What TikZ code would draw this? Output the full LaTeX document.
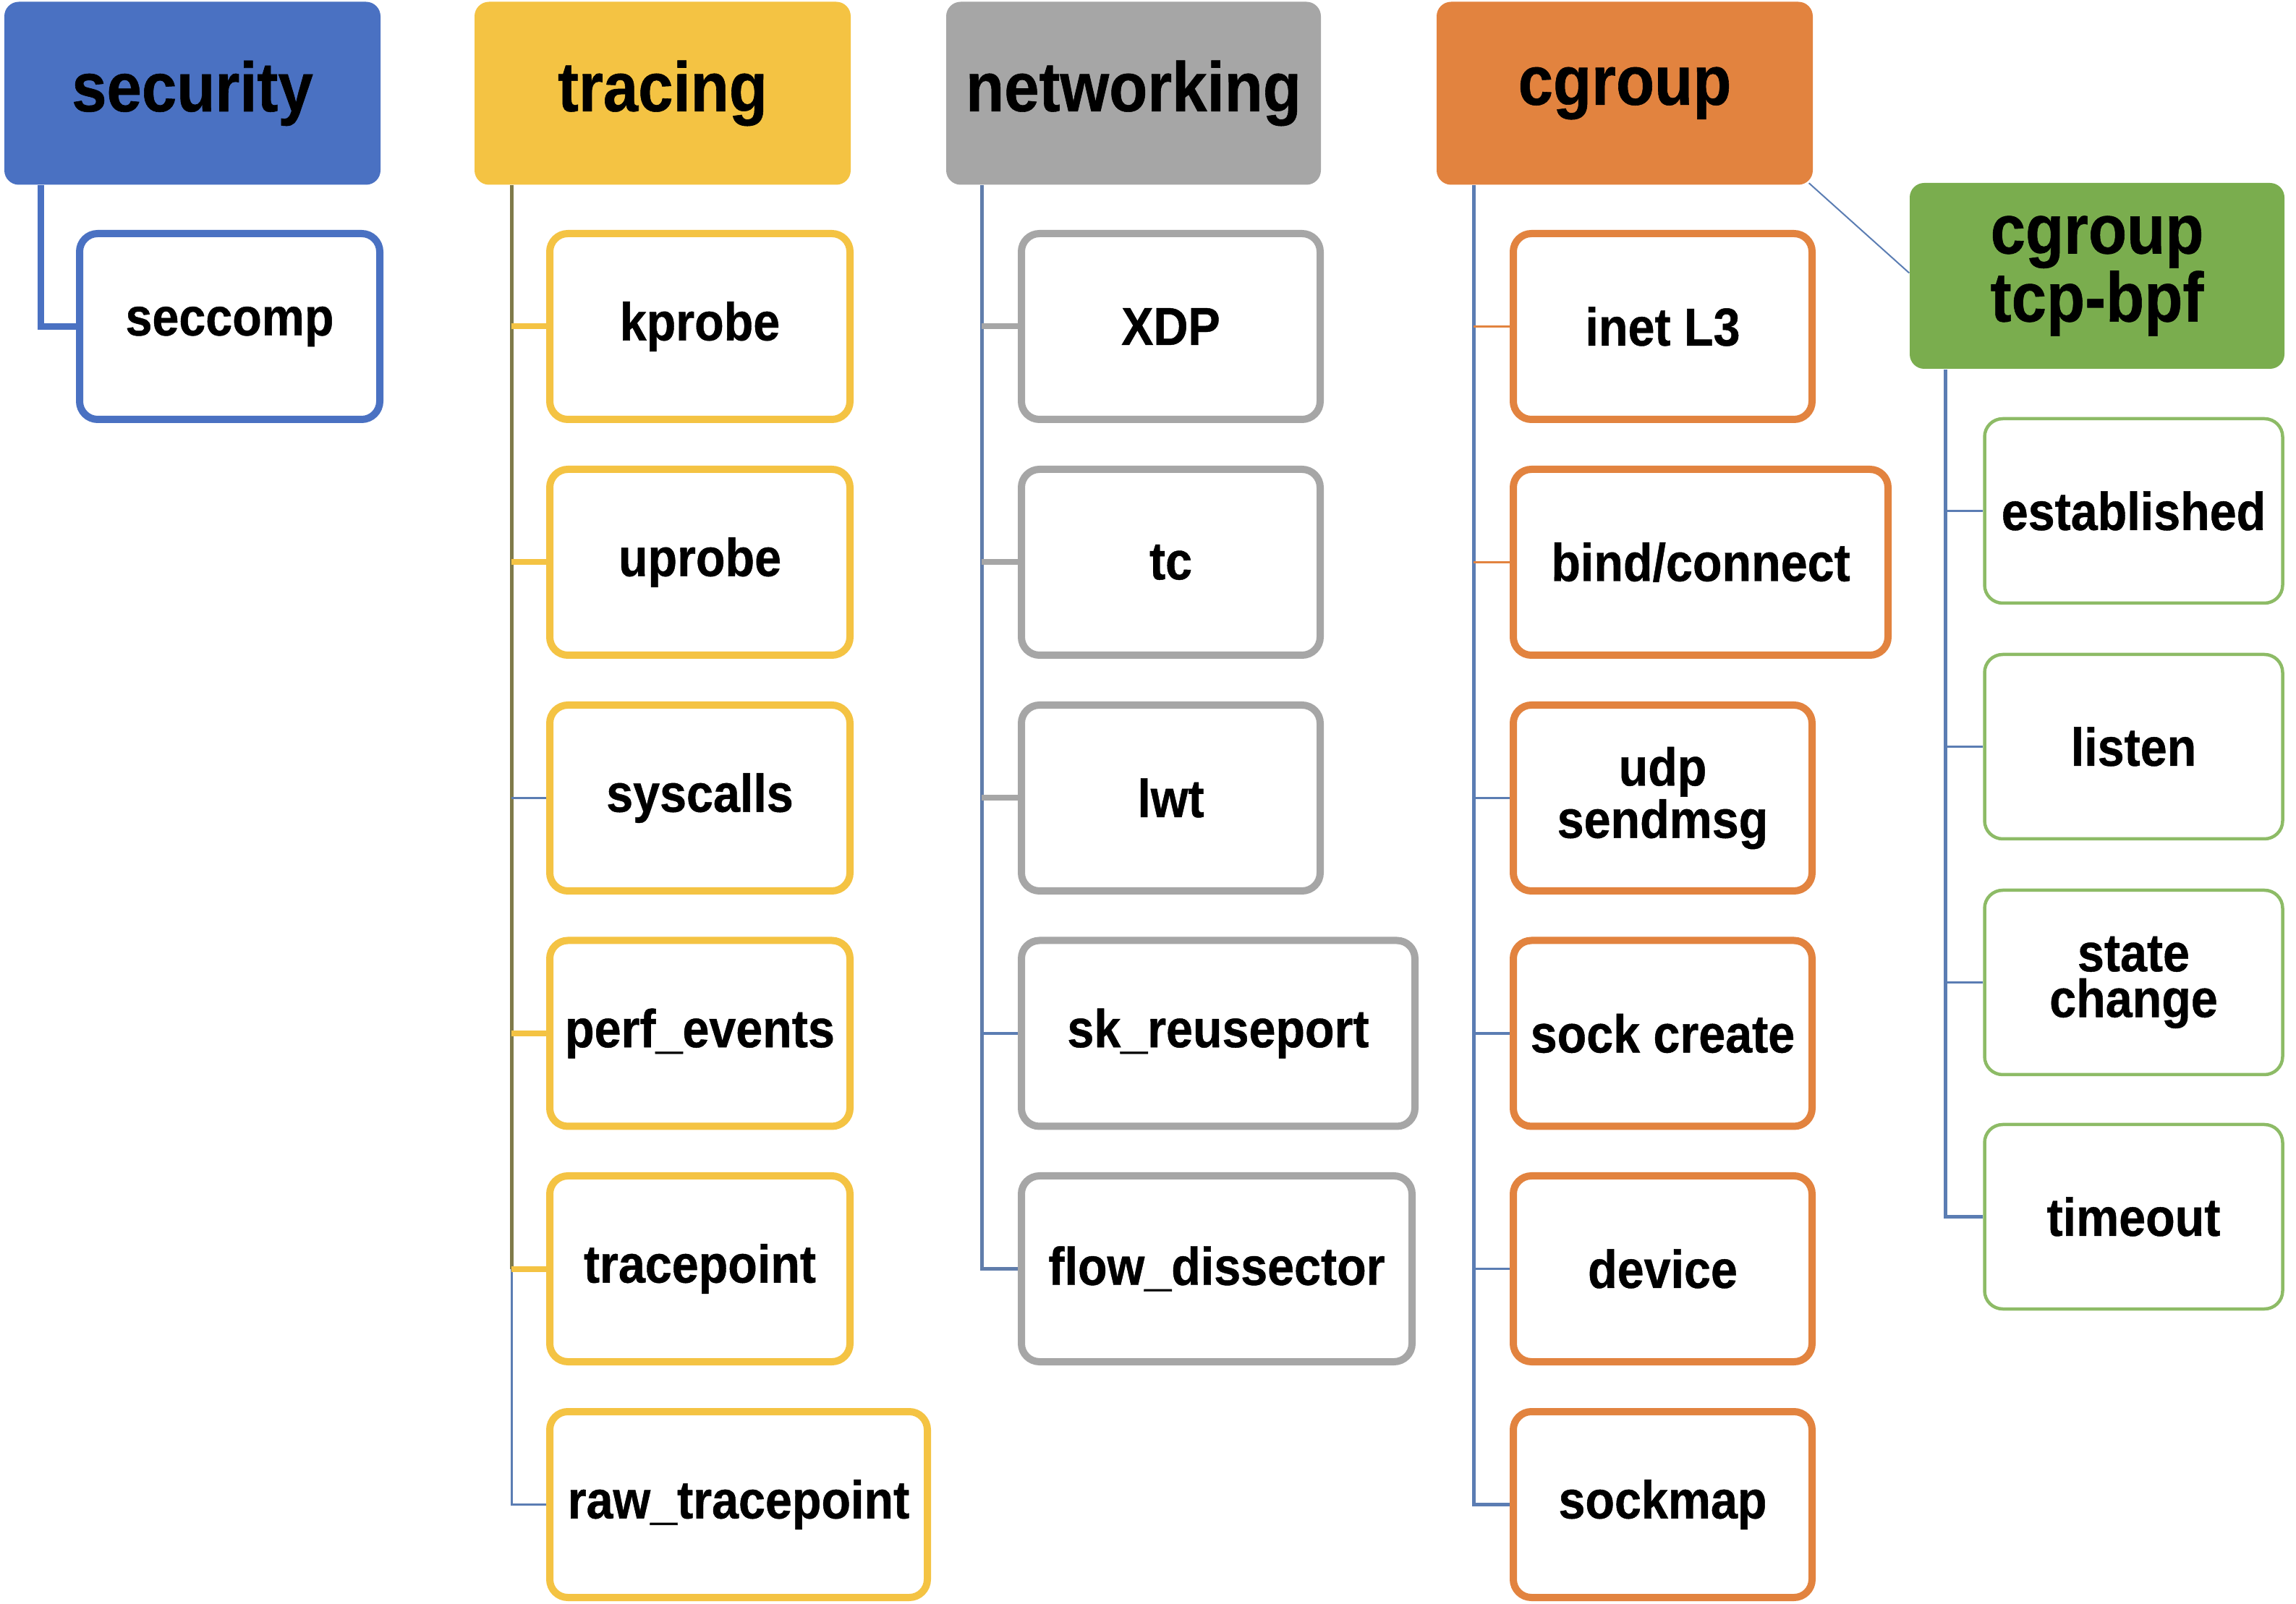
\documentclass[tikz,border=0pt]{standalone}
\usepackage{fontspec}
\setmainfont{Liberation Sans}
\newfontfamily\dfont{Liberation Sans}[FakeStretch=0.9,FakeBold=0.6]
\definecolor{secblue}{HTML}{4A71C2}
\definecolor{gold}{HTML}{F4C343}
\definecolor{netgray}{HTML}{A6A6A6}
\definecolor{cgorange}{HTML}{E2833F}
\definecolor{tcpgreen}{HTML}{7AAD4E}
\definecolor{lgreen}{HTML}{8DBB66}
\definecolor{linkblue}{HTML}{5B7DB3}
\definecolor{olive}{HTML}{7F7A4A}
\tikzset{
  header/.style={rectangle, rounded corners=0.2cm, inner sep=0pt, align=center,
    font=\dfont\bfseries\fontsize{27.5}{23}\selectfont, text=black},
  leaf/.style={rectangle, rounded corners=0.25cm, fill=white, inner sep=0pt, align=center,
    minimum height=2.57cm, font=\dfont\bfseries\fontsize{21}{18}\selectfont, text=black},
  thinlink/.style={draw=linkblue, line width=0.035cm},
}
\begin{document}
\begin{tikzpicture}
\useasboundingbox (0,0) rectangle (31.74,-22.18);
% ---------- headers ----------
\node[header, fill=secblue, minimum width=5.2cm, minimum height=2.53cm] (sec) at (2.66,-1.29) {security};
\node[header, fill=gold, minimum width=5.2cm, minimum height=2.53cm] (trc) at (9.16,-1.29) {tracing};
\node[header, fill=netgray, minimum width=5.18cm, minimum height=2.53cm] (net) at (15.67,-1.29) {networking};
\node[header, fill=cgorange, minimum width=5.2cm, minimum height=2.53cm] (cg) at (22.46,-1.29) {cgroup};
\node[header, fill=tcpgreen, minimum width=5.18cm, minimum height=2.57cm] (tcp) at (28.99,-3.815) {cgroup\\tcp-bpf};
% ---------- security ----------
\node[leaf, draw=secblue, line width=0.1cm, minimum width=4.15cm] (seccomp) at (3.175,-4.515) {seccomp};
% ---------- tracing ----------
\tikzset{tl/.style={leaf, draw=gold, line width=0.1cm, minimum width=4.15cm}}
\node[tl] (kprobe) at (9.675,-4.515) {kprobe};
\node[tl] (uprobe) at (9.675,-7.775) {uprobe};
\node[tl] (syscalls) at (9.675,-11.035) {syscalls};
\node[tl] (perf) at (9.675,-14.29) {perf\_events};
\node[tl] (tracepoint) at (9.675,-17.545) {tracepoint};
\node[tl, minimum width=5.22cm] (rawtp) at (10.21,-20.805) {raw\_tracepoint};
% ---------- networking ----------
\tikzset{nl/.style={leaf, draw=netgray, line width=0.1cm, minimum width=4.13cm}}
\node[nl] (xdp) at (16.185,-4.515) {XDP};
\node[nl] (tc) at (16.185,-7.775) {tc};
\node[nl] (lwt) at (16.185,-11.035) {lwt};
\node[nl, minimum width=5.44cm] (skre) at (16.84,-14.29) {sk\_reuseport};
\node[nl, minimum width=5.40cm] (flow) at (16.82,-17.545) {flow\_dissector};
% ---------- cgroup ----------
\tikzset{cl/.style={leaf, draw=cgorange, line width=0.1cm, minimum width=4.13cm}}
\node[cl] (inet) at (22.985,-4.515) {inet L3};
\node[cl, minimum width=5.18cm] (bind) at (23.51,-7.775) {bind/connect};
\node[cl] (udp) at (22.985,-11.035) {udp\\sendmsg};
\node[cl] (sock) at (22.985,-14.29) {sock create};
\node[cl] (device) at (22.985,-17.545) {device};
\node[cl] (sockmap) at (22.985,-20.805) {sockmap};
% ---------- cgroup tcp-bpf ----------
\tikzset{gl/.style={leaf, draw=lgreen, line width=0.045cm, minimum width=4.12cm, minimum height=2.55cm}}
\node[gl] (est) at (29.495,-7.065) {established};
\node[gl] (listen) at (29.495,-10.325) {listen};
\node[gl] (state) at (29.495,-13.585) {state\\change};
\node[gl] (timeout) at (29.495,-16.825) {timeout};
% ---------- connectors: security ----------
\draw[draw=secblue, line width=0.085cm] ([xshift=0.51cm]sec.south west) |- (seccomp.west);
% ---------- connectors: tracing ----------
\coordinate (ttop) at ([xshift=0.52cm]trc.south west);
\draw[draw=olive, line width=0.05cm] (ttop) -- (ttop |- tracepoint.west);
\draw[thinlink] (ttop |- tracepoint.west) |- (rawtp.west);
\foreach \n in {kprobe,uprobe,perf,tracepoint}
  \draw[draw=gold, line width=0.08cm] (ttop |- \n.west) -- (\n.west);
\draw[thinlink] (ttop |- syscalls.west) -- (syscalls.west);
% ---------- connectors: networking ----------
\coordinate (ntop) at ([xshift=0.5cm]net.south west);
\draw[draw=linkblue!85!gray, line width=0.045cm] (ntop) |- (flow.west);
\foreach \n in {xdp,tc,lwt}
  \draw[draw=netgray, line width=0.08cm] (ntop |- \n.west) -- (\n.west);
\draw[thinlink] (ntop |- skre.west) -- (skre.west);
% ---------- connectors: cgroup ----------
\coordinate (ctop) at ([xshift=0.52cm]cg.south west);
\draw[thinlink, line width=0.045cm] (ctop) |- (sockmap.west);
\foreach \n in {inet,bind}
  \draw[draw=cgorange, line width=0.035cm] (ctop |- \n.west) -- (\n.west);
\foreach \n in {udp,sock,device}
  \draw[thinlink] (ctop |- \n.west) -- (\n.west);
\draw[draw=linkblue, line width=0.02cm] ([xshift=-0.06cm,yshift=0.03cm]cg.south east) -- ([yshift=0.04cm]tcp.west);
% ---------- connectors: cgroup tcp-bpf ----------
\coordinate (gtop) at ([xshift=0.5cm]tcp.south west);
\draw[thinlink, line width=0.045cm] (gtop) |- (timeout.west);
\foreach \n in {est,listen,state}
  \draw[thinlink] (gtop |- \n.west) -- (\n.west);
\end{tikzpicture}
\end{document}
